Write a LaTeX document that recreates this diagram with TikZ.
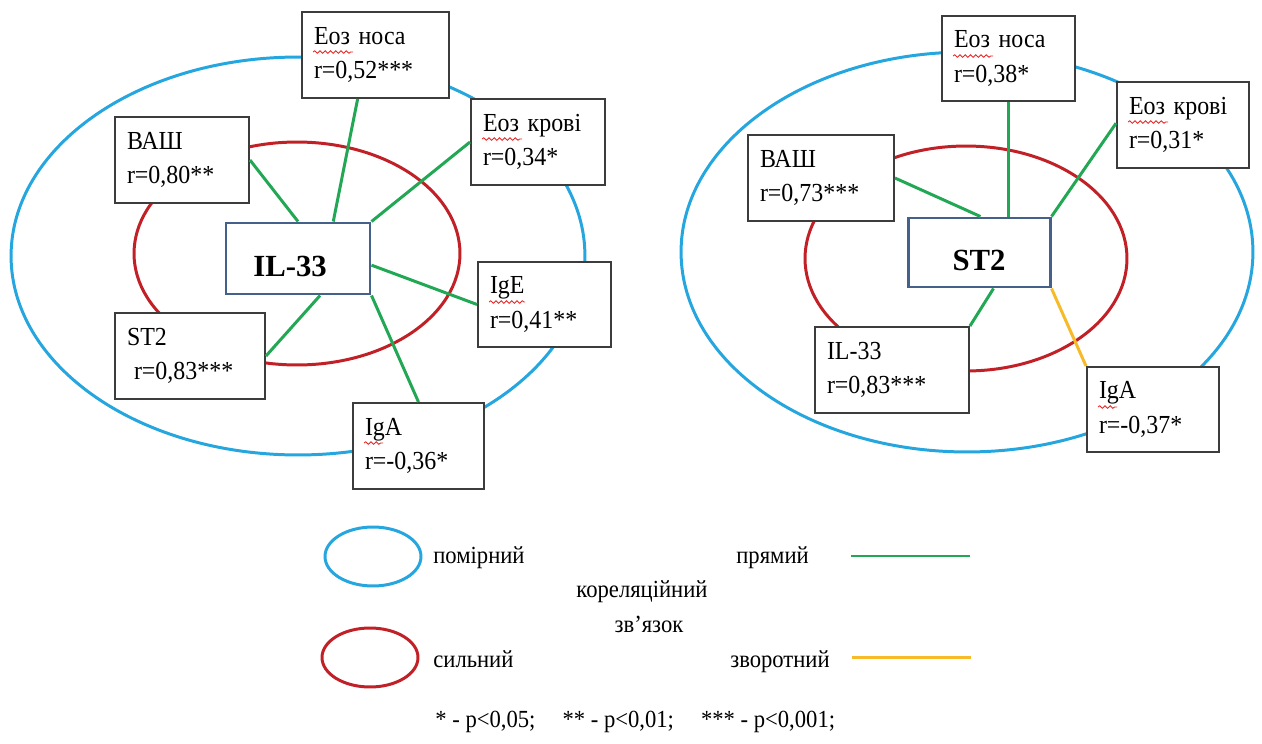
\documentclass[tikz,border=0pt]{standalone}
\usepackage{fontspec}
\setmainfont{Liberation Serif}[FakeStretch=0.92]
\newfontfamily\hubfont{Liberation Serif}
\usetikzlibrary{calc,decorations.pathmorphing}

\definecolor{moderate}{RGB}{38,166,222}
\definecolor{strong}{RGB}{192,32,38}
\definecolor{direct}{RGB}{34,168,84}
\definecolor{inverse}{RGB}{247,186,40}
\definecolor{hubframe}{RGB}{70,96,140}
\definecolor{boxframe}{RGB}{60,60,60}
\definecolor{spell}{RGB}{230,40,40}

\begin{document}
\begin{tikzpicture}[
  x=0.02cm, y=-0.02cm,
  ringline/.style={line width=1.7pt},
  varbox/.style n args={2}{draw=boxframe, line width=1.1pt, fill=white,
    inner xsep=0pt, inner ysep=0pt, align=left,
    font=\fontsize{14.8}{19.6}\selectfont,
    minimum width=#1*0.02cm, minimum height=#2*0.02cm,
    /utils/exec={\pgfmathsetlengthmacro\boxtw{(#1-24)*0.02cm}},
    text width=\boxtw},
  hubbox/.style n args={2}{draw=hubframe, line width=1.7pt, fill=white,
    inner sep=0pt, font=\hubfont\bfseries\fontsize{17.5}{20}\selectfont,
    minimum width=#1*0.02cm, minimum height=#2*0.02cm,
    text height=21pt, text depth=0pt},
  directlink/.style={draw=direct, line width=1.7pt},
  inverselink/.style={draw=inverse, line width=1.7pt},
  squig/.style={draw=spell, line width=0.5pt,
    decorate, decoration={snake, amplitude=0.7pt, segment length=3pt}},
  legendtext/.style={font=\fontsize{14}{16}\selectfont, inner sep=0pt, anchor=base west},
]
\useasboundingbox (0,0) rectangle (1262,744);

% ---------------- IL-33 correlation map ----------------
\draw[ringline, moderate] (298,256) ellipse [x radius=5.74cm, y radius=3.98cm];
\draw[ringline, strong] (297,253.5) ellipse [x radius=3.26cm, y radius=2.23cm];

\node[hubbox={144}{71}] (il) at (298,258.5) {IL-33\kern9pt};
\node[varbox={147}{86}] (noseL)  at (375.5,55)  {Еоз носа\\r=0,52***};
\node[varbox={134}{86}] (bloodL) at (538,142)   {Еоз крові\\r=0,34*};
\node[varbox={134}{86}] (vashL)  at (182,160)   {ВАШ\\r=0,80**};
\node[varbox={133}{85}] (igeL)   at (544.5,304.5) {IgE\\r=0,41**};
\node[varbox={150}{86}] (st2L)   at (190,356)   {ST2\\\hspace*{4pt}r=0,83***};
\node[varbox={131}{86}] (igaL)   at (418.5,446) {IgA\\r=-0,36*};

\draw[directlink] (vashL.east) -- (il.north);
\draw[directlink] ($(noseL.south west)!0.38!(noseL.south east)$) -- ($(il.north west)!0.74!(il.north east)$);
\draw[directlink] (bloodL.west) -- (il.north east);
\draw[directlink] (igeL.west) -- ($(il.north east)!0.59!(il.south east)$);
\draw[directlink] (st2L.east) -- ($(il.south west)!0.65!(il.south east)$);
\draw[directlink] (igaL.north) -- (il.south east);

% spelling marks under the words
\draw[squig] ($(noseL.north west)+(12,41)$) -- ++(40,0);
\draw[squig] ($(bloodL.north west)+(12,41)$) -- ++(40,0);
\draw[squig] ($(igeL.north west)+(12,41)$) -- ++(36,0);
\draw[squig] ($(igaL.north west)+(12,41)$) -- ++(19,0);

% ---------------- ST2 correlation map ----------------
\draw[ringline, moderate] (967,252) ellipse [x radius=5.72cm, y radius=4.0cm];
\draw[ringline, strong] (966,258.5) ellipse [x radius=3.22cm, y radius=2.25cm];

\node[hubbox={142}{69}] (st2) at (979,252.5) {ST2};
\node[varbox={133}{85}] (noseR)  at (1008.5,58.5) {Еоз носа\\r=0,38*};
\node[varbox={132}{86}] (bloodR) at (1183,125)    {Еоз крові\\r=0,31*};
\node[varbox={146}{86}] (vashR)  at (821,178)     {ВАШ\\r=0,73***};
\node[varbox={154}{86}] (ilR)    at (892,370)     {IL-33\\r=0,83***};
\node[varbox={132}{85}] (igaR)   at (1153,409.5)  {IgA\\r=-0,37*};

\draw[directlink] (vashR.east) -- ($(st2.north west)!0.51!(st2.north east)$);
\draw[directlink] (noseR.south) -- (noseR.south |- st2.north);
\draw[directlink] ($(bloodR.north west)!0.48!(bloodR.south west)$) -- (st2.north east);
\draw[directlink] (ilR.north east) -- ($(st2.south west)!0.6!(st2.south east)$);
\draw[inverselink] (igaR.north west) -- (st2.south east);

\draw[squig] ($(noseR.north west)+(12,41)$) -- ++(40,0);
\draw[squig] ($(bloodR.north west)+(12,41)$) -- ++(40,0);
\draw[squig] ($(igaR.north west)+(12,41)$) -- ++(19,0);

% ---------------- legend ----------------
\draw[ringline, moderate] (373,556.5) ellipse [x radius=0.96cm, y radius=0.59cm];
\draw[ringline, strong] (370,657.5) ellipse [x radius=0.96cm, y radius=0.59cm];

\node[legendtext] (lmod) at (433,563) {помірний};
\node[legendtext] (lstr) at (433,667) {сильний};
\node[legendtext] (ldir) at (736,563) {прямий};
\node[legendtext] (linv) at (730,667) {зворотний};
\node[legendtext, anchor=base] (lcor) at (642,597) {кореляційний};
\node[legendtext, anchor=base] (llink) at (649,632) {зв’язок};

\coordinate (gA) at (851,556);
\coordinate (gB) at (970,556);
\coordinate (yA) at (852,657);
\coordinate (yB) at (971,657);
\draw[directlink] (gA) -- (gB);
\draw[inverselink] (yA) -- (yB);

\node[legendtext] (lp) at (435,727) {* - p<0,05;\hspace{1.1em}** - p<0,01;\hspace{1.1em}*** - p<0,001;};
\end{tikzpicture}
\end{document}
